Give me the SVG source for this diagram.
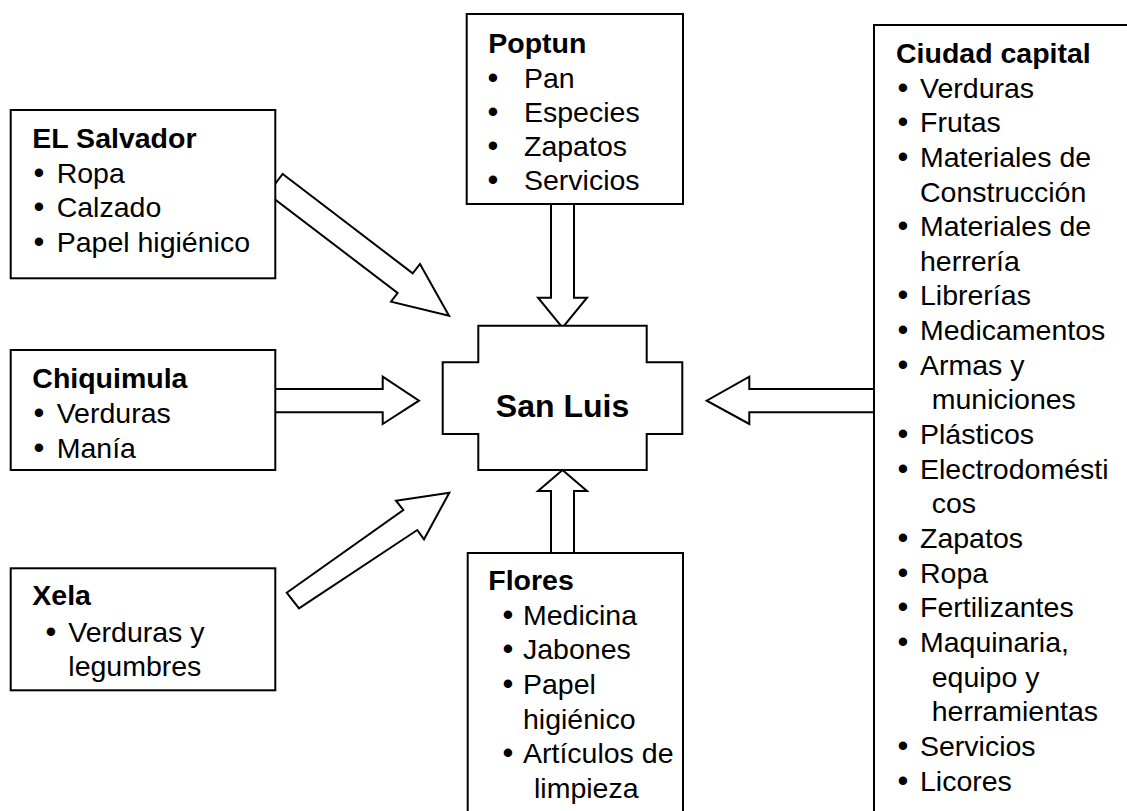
<svg xmlns="http://www.w3.org/2000/svg" width="1127" height="811" viewBox="0 0 1127 811">
<style>
.box{fill:#fff;stroke:#000;stroke-width:2}
.arr{fill:#fff;stroke:#000;stroke-width:2;stroke-linejoin:miter}
text{font-family:"Liberation Sans",Arial,sans-serif;font-size:28.5px;fill:#000}
.h{font-weight:bold}
.b{font-size:31px}
</style>
<rect width="1127" height="811" fill="#fff"/>
<g id="connectors">
<polygon class="arr" points="282.7,174 412.7,273.3 420,264 449,315.7 391,301.7 397.6,293 267.6,193.7"/>
<polygon class="arr" points="275,389 382.7,389 382.7,376.7 419,400.7 382.7,424 382.7,412.3 275,412.3"/>
<polygon class="arr" points="286.7,592.7 403.3,510 396,500.7 449.3,492.7 424,539.3 417.3,530 299,608.3"/>
<polygon class="arr" points="551,204 574,204 574,297.7 587,297.7 562.5,327.7 538,297.7 551,297.7"/>
<polygon class="arr" points="562.5,470 587,491 574,491 574,553 551,553 551,491 538,491"/>
<polygon class="arr" points="874,389 749.3,389 749.3,376.7 706.7,400.7 749.3,424 749.3,412.3 874,412.3"/>
</g>
<g id="san-luis">
<polygon class="box" points="478.3,325.7 646.7,325.7 646.7,362.3 682.3,362.3 682.3,434 646.7,434 646.7,470 478.3,470 478.3,434 442.7,434 442.7,362.3 478.3,362.3"/>
<text x="562.5" y="417" text-anchor="middle" class="h" style="font-size:32px">San Luis</text>
</g>
<g id="el-salvador">
<rect class="box" x="10.7" y="110" width="264.6" height="168.3"/>
<text x="32.3" y="148" class="h">EL Salvador</text>
<text y="182.7"><tspan x="33.6" class="b">•</tspan><tspan x="56.7">Ropa</tspan></text>
<text y="217.3"><tspan x="33.6" class="b">•</tspan><tspan x="56.7">Calzado</tspan></text>
<text y="252"><tspan x="33.6" class="b">•</tspan><tspan x="56.7">Papel higiénico</tspan></text>
</g>
<g id="chiquimula">
<rect class="box" x="10.7" y="350" width="264.6" height="120"/>
<text x="32.3" y="388.3" class="h">Chiquimula</text>
<text y="423"><tspan x="33.6" class="b">•</tspan><tspan x="56.7">Verduras</tspan></text>
<text y="457.6"><tspan x="33.6" class="b">•</tspan><tspan x="56.7">Manía</tspan></text>
</g>
<g id="xela">
<rect class="box" x="10.7" y="568.3" width="264.6" height="122"/>
<text x="32.3" y="605" class="h">Xela</text>
<text y="641.7"><tspan x="45.6" class="b">•</tspan><tspan x="68.3">Verduras y</tspan></text>
<text x="68.3" y="676.3">legumbres</text>
</g>
<g id="poptun">
<rect class="box" x="466.7" y="14" width="216.3" height="190"/>
<text x="488.3" y="53.3" class="h">Poptun</text>
<text y="88.3"><tspan x="487.6" class="b">•</tspan><tspan x="524">Pan</tspan></text>
<text y="122.3"><tspan x="487.6" class="b">•</tspan><tspan x="524">Especies</tspan></text>
<text y="156.3"><tspan x="487.6" class="b">•</tspan><tspan x="524">Zapatos</tspan></text>
<text y="190.3"><tspan x="487.6" class="b">•</tspan><tspan x="524">Servicios</tspan></text>
</g>
<g id="flores">
<rect class="box" x="467.7" y="553" width="215.3" height="270"/>
<text x="488.3" y="590" class="h">Flores</text>
<text y="624.6"><tspan x="502.6" class="b">•</tspan><tspan x="523">Medicina</tspan></text>
<text y="659.3"><tspan x="502.6" class="b">•</tspan><tspan x="523">Jabones</tspan></text>
<text y="694"><tspan x="502.6" class="b">•</tspan><tspan x="523">Papel</tspan></text>
<text x="523" y="728.6">higiénico</text>
<text y="763.3"><tspan x="502.6" class="b">•</tspan><tspan x="523">Artículos de</tspan></text>
<text x="534" y="798">limpieza</text>
</g>
<g id="ciudad-capital">
<rect class="box" x="874" y="25" width="270" height="800"/>
<text x="896" y="62.9" class="h">Ciudad capital</text>
<text y="97.5"><tspan x="897.6" class="b">•</tspan><tspan x="920">Verduras</tspan></text>
<text y="132.2"><tspan x="897.6" class="b">•</tspan><tspan x="920">Frutas</tspan></text>
<text y="166.8"><tspan x="897.6" class="b">•</tspan><tspan x="920">Materiales de</tspan></text>
<text x="920" y="201.5">Construcción</text>
<text y="236.1"><tspan x="897.6" class="b">•</tspan><tspan x="920">Materiales de</tspan></text>
<text x="920" y="270.8">herrería</text>
<text y="305.4"><tspan x="897.6" class="b">•</tspan><tspan x="920">Librerías</tspan></text>
<text y="340.1"><tspan x="897.6" class="b">•</tspan><tspan x="920">Medicamentos</tspan></text>
<text y="374.7"><tspan x="897.6" class="b">•</tspan><tspan x="920">Armas y</tspan></text>
<text x="931.7" y="409.4">municiones</text>
<text y="444"><tspan x="897.6" class="b">•</tspan><tspan x="920">Plásticos</tspan></text>
<text y="478.7"><tspan x="897.6" class="b">•</tspan><tspan x="920">Electrodomésti</tspan></text>
<text x="931.7" y="513.3">cos</text>
<text y="548"><tspan x="897.6" class="b">•</tspan><tspan x="920">Zapatos</tspan></text>
<text y="582.6"><tspan x="897.6" class="b">•</tspan><tspan x="920">Ropa</tspan></text>
<text y="617.3"><tspan x="897.6" class="b">•</tspan><tspan x="920">Fertilizantes</tspan></text>
<text y="652"><tspan x="897.6" class="b">•</tspan><tspan x="920">Maquinaria,</tspan></text>
<text x="931.7" y="686.6">equipo y</text>
<text x="931.7" y="721.3">herramientas</text>
<text y="755.9"><tspan x="897.6" class="b">•</tspan><tspan x="920">Servicios</tspan></text>
<text y="790.6"><tspan x="897.6" class="b">•</tspan><tspan x="920">Licores</tspan></text>
</g>
</svg>
